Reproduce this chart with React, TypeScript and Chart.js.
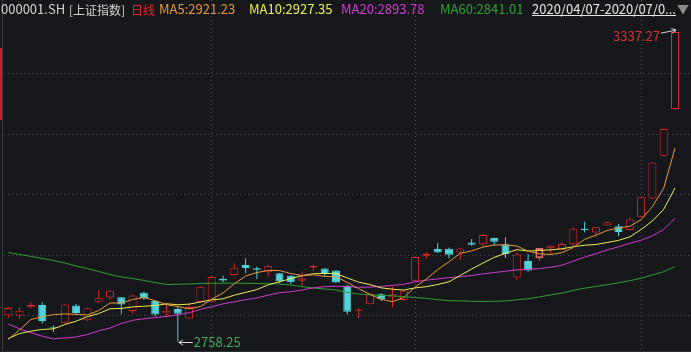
import React, { useEffect, useRef } from "react";
import { Chart, registerables } from "chart.js";

Chart.register(...registerables);

// ---------- data ----------
const dates = [
  "2020/04/07", "2020/04/08", "2020/04/09", "2020/04/10", "2020/04/13", "2020/04/14", "2020/04/15", "2020/04/16", "2020/04/17", "2020/04/20",
  "2020/04/21", "2020/04/22", "2020/04/23", "2020/04/24", "2020/04/27", "2020/04/28", "2020/04/29", "2020/04/30", "2020/05/06", "2020/05/07",
  "2020/05/08", "2020/05/11", "2020/05/12", "2020/05/13", "2020/05/14", "2020/05/15", "2020/05/18", "2020/05/19", "2020/05/20", "2020/05/21",
  "2020/05/22", "2020/05/25", "2020/05/26", "2020/05/27", "2020/05/28", "2020/05/29", "2020/06/01", "2020/06/02", "2020/06/03", "2020/06/04",
  "2020/06/05", "2020/06/08", "2020/06/09", "2020/06/10", "2020/06/11", "2020/06/12", "2020/06/15", "2020/06/16", "2020/06/17", "2020/06/18",
  "2020/06/19", "2020/06/22", "2020/06/23", "2020/06/24", "2020/06/29", "2020/06/30", "2020/07/01", "2020/07/02", "2020/07/03", "2020/07/06",
];

const opens = [
  2807, 2806, 2822, 2826, 2785, 2793, 2825, 2798, 2832, 2840,
  2840.5, 2815, 2849, 2833.6, 2810.4, 2818.5, 2801, 2832, 2832, 2875,
  2882, 2900.5, 2894.5, 2887, 2885, 2880.5, 2871, 2895.5, 2894, 2890,
  2862, 2815.5, 2827.5, 2846, 2840, 2835.4, 2871, 2917.5, 2930, 2930.5,
  2923.5, 2942, 2939, 2950.5, 2939, 2877, 2908, 2913, 2931.5, 2928.5,
  2939, 2967.5, 2960.5, 2973.5, 2972.5, 2965.5, 2990, 3024, 3103, 3190,
];

const highs = [
  2823, 2822, 2831, 2831.5, 2788.5, 2828, 2828, 2822, 2854, 2853,
  2841, 2845, 2851, 2834, 2830.3, 2823, 2829, 2861, 2880.5, 2880.5,
  2903, 2913, 2897.5, 2900.5, 2885.5, 2882, 2888.5, 2901.5, 2894.5, 2890.5,
  2863.5, 2820, 2847, 2848, 2860.5, 2853, 2916, 2924.5, 2941, 2933,
  2931.5, 2948.5, 2958, 2951, 2952, 2925, 2921, 2932.5, 2936.5, 2943,
  2971.5, 2980.5, 2971, 2981, 2976.5, 2989, 3026.5, 3091, 3153.5, 3337.27,
];

const lows = [
  2802, 2800, 2820, 2792, 2776, 2792, 2809, 2796, 2830, 2835.6,
  2809, 2810, 2835.4, 2805.4, 2804, 2758.25, 2799.7, 2831, 2831, 2868.5,
  2881, 2885, 2874, 2879, 2867, 2865, 2862, 2889, 2879, 2867,
  2808.5, 2802, 2827, 2833.6, 2821.7, 2833.6, 2870, 2912, 2923, 2913,
  2909.6, 2936, 2934.6, 2936, 2913.4, 2873, 2888, 2908.5, 2919, 2928,
  2934.6, 2960.7, 2953, 2973, 2954, 2964.5, 2989, 3023, 3102, 3189,
];

const closes = [
  2820.76, 2815.37, 2825.9, 2796.63, 2783.05, 2827.28, 2811.17, 2819.94, 2838.49, 2852.55,
  2827.01, 2843.98, 2838.5, 2808.53, 2815.49, 2810.02, 2822.44, 2860.08, 2878.14, 2871.52,
  2895.34, 2894.8, 2891.56, 2898.05, 2870.34, 2868.46, 2875.42, 2898.58, 2883.74, 2867.92,
  2813.77, 2817.97, 2846.55, 2836.8, 2846.22, 2852.35, 2915.43, 2921.4, 2923.37, 2919.25,
  2930.8, 2937.77, 2956.11, 2943.32, 2920.9, 2919.74, 2890.03, 2931.75, 2935.87, 2939.32,
  2967.63, 2965.27, 2970.62, 2979.55, 2961.52, 2984.67, 3025.98, 3090.57, 3152.81, 3332.88,
];

const ma5 = [
  2762.5, 2779.8, 2799.2, 2804.4, 2808.3, 2809.6, 2808.8, 2807.6, 2816.0, 2829.9,
  2829.8, 2836.4, 2840.1, 2834.1, 2826.7, 2823.3, 2819.0, 2823.3, 2837.2, 2848.4,
  2865.5, 2880.0, 2886.3, 2890.3, 2890.0, 2884.6, 2880.8, 2882.2, 2879.3, 2878.8,
  2867.9, 2856.4, 2846.0, 2836.6, 2832.3, 2840.0, 2859.5, 2874.4, 2891.8, 2906.4,
  2922.1, 2926.5, 2933.5, 2937.5, 2937.8, 2935.6, 2926.0, 2921.2, 2919.7, 2923.3,
  2932.9, 2948.0, 2955.7, 2964.5, 2968.9, 2972.3, 2984.5, 3008.5, 3043.1, 3117.4,
];

const ma10 = [
  2763.9, 2773.2, 2777.6, 2780.8, 2781.9, 2789.9, 2796.0, 2804.5, 2810.3, 2819.1,
  2819.7, 2822.6, 2823.9, 2825.1, 2828.3, 2826.6, 2827.7, 2831.7, 2835.7, 2837.6,
  2844.4, 2849.5, 2854.8, 2863.7, 2869.2, 2875.1, 2880.4, 2884.2, 2884.8, 2884.4,
  2876.3, 2868.6, 2864.1, 2858.0, 2855.5, 2853.9, 2857.9, 2860.2, 2864.2, 2869.3,
  2881.0, 2893.0, 2903.9, 2914.6, 2922.0, 2928.8, 2926.2, 2927.3, 2928.5, 2930.5,
  2934.2, 2937.0, 2938.4, 2942.1, 2946.1, 2952.6, 2966.2, 2982.1, 3003.8, 3043.2,
];

const ma20 = [
  2790.9, 2781.8, 2774.7, 2768.4, 2763.2, 2765.1, 2766.7, 2771.3, 2778.1, 2783.4,
  2791.7, 2797.8, 2800.6, 2802.8, 2805.0, 2808.1, 2811.7, 2818.0, 2822.9, 2828.3,
  2832.1, 2836.0, 2839.3, 2844.4, 2848.8, 2850.8, 2854.0, 2858.0, 2860.2, 2861.0,
  2860.3, 2859.0, 2859.4, 2860.8, 2862.4, 2864.5, 2869.2, 2872.2, 2874.5, 2876.9,
  2878.6, 2880.8, 2884.0, 2886.3, 2888.8, 2891.4, 2892.1, 2893.8, 2896.3, 2899.9,
  2907.6, 2915.0, 2921.2, 2928.3, 2934.1, 2940.7, 2946.2, 2954.7, 2966.2, 2986.8,
];

const ma60 = [
  2923.6, 2919.9, 2916.2, 2912.5, 2908.7, 2904.1, 2898.5, 2893.9, 2888.3, 2882.8,
  2878.1, 2875.3, 2871.6, 2867.9, 2864.2, 2864.6, 2865.1, 2866.0, 2866.4, 2866.6,
  2866.6, 2866.4, 2866.0, 2865.7, 2865.1, 2863.3, 2860.1, 2857.7, 2855.8, 2854.0,
  2849.4, 2846.5, 2845.0, 2843.9, 2843.3, 2841.3, 2840.0, 2838.5, 2836.05, 2834.13,
  2833.92, 2832.94, 2832.73, 2833.06, 2833.62, 2835.79, 2837.63, 2841.01, 2844.9, 2848.1,
  2853.3, 2857.3, 2860.5, 2864.0, 2867.2, 2871.2, 2875.8, 2881.7, 2887.9, 2897.4,
];

const maNames = ["MA5", "MA10", "MA20", "MA60"];
const maLegendValues = ["2921.23", "2927.35", "2893.78", "2841.01"];
const gridPrices = [3256.2, 3142.9, 3030.3, 2917.6, 2806.3];
const monthStarts = ["2020/05/06", "2020/06/01", "2020/07/01"];
const highlightDate = "2020/06/16";
const yMin = 2738.9;
const yMax = 3392.2;

// ---------- styles ----------
const BG = "#16171b";
const UP = "#dc2828";
const DOWN = "#52d3d9";
const HILITE = "#e56a6a";
const GRID = "#4a4d55";
const MA_COLORS = ["#e8983c", "#eeee52", "#d23cd2", "#2fa02f"];
const FONT = '"Noto Sans CJK SC", "Noto Sans", sans-serif';

export default function App() {
  const ref = useRef<HTMLCanvasElement | null>(null);

  useEffect(() => {
    document.body.style.margin = "0";
    document.body.style.background = BG;
    const canvas = ref.current;
    if (!canvas) return;
    const hi = dates.indexOf(highlightDate);
    const up = closes.map((c, i) => c >= opens[i]);

    const decor = {
      id: "decor",
      beforeDatasetsDraw(chart: any) {
        const { ctx } = chart;
        const xs = chart.scales.x;
        const ys = chart.scales.y;
        ctx.save();
        ctx.lineWidth = 1;
        ctx.strokeStyle = GRID;
        ctx.setLineDash([1, 3]);
        gridPrices.forEach((v) => {
          const py = Math.floor(ys.getPixelForValue(v)) + 0.5;
          ctx.beginPath();
          ctx.moveTo(4, py);
          ctx.lineTo(chart.width, py);
          ctx.stroke();
        });
        dates.forEach((d, i) => {
          if (!monthStarts.includes(d)) return;
          const px = Math.floor(xs.getPixelForValue(i)) + 0.5;
          ctx.beginPath();
          ctx.moveTo(px, 0);
          ctx.lineTo(px, chart.height);
          ctx.stroke();
        });
        ctx.setLineDash([]);
        ctx.strokeStyle = "#3a3d44";
        ctx.beginPath();
        ctx.moveTo(2.5, 0);
        ctx.lineTo(2.5, chart.height);
        ctx.stroke();
        ctx.strokeStyle = "#2c2e34";
        ctx.beginPath();
        ctx.moveTo(0, chart.height - 0.5);
        ctx.lineTo(chart.width, chart.height - 0.5);
        ctx.stroke();
        ctx.restore();
      },
      afterDatasetsDraw(chart: any) {
        const { ctx } = chart;
        const xs = chart.scales.x;
        const ys = chart.scales.y;
        const maxV = Math.max(...highs);
        const minV = Math.min(...lows);
        const hiIdx = highs.indexOf(maxV);
        const loIdx = lows.indexOf(minV);
        const xh = xs.getPixelForValue(hiIdx);
        const yh = ys.getPixelForValue(maxV);
        const xl = xs.getPixelForValue(loIdx);
        const yl = ys.getPixelForValue(minV);
        const arrow = (fx: number, fy: number, tx: number, ty: number, color: string) => {
          const a = Math.atan2(ty - fy, tx - fx);
          ctx.strokeStyle = color;
          ctx.lineWidth = 1;
          ctx.beginPath();
          ctx.moveTo(fx, fy);
          ctx.lineTo(tx, ty);
          ctx.moveTo(tx - 5 * Math.cos(a - 0.55), ty - 5 * Math.sin(a - 0.55));
          ctx.lineTo(tx, ty);
          ctx.lineTo(tx - 5 * Math.cos(a + 0.55), ty - 5 * Math.sin(a + 0.55));
          ctx.stroke();
        };
        ctx.save();
        ctx.font = `13px ${FONT}`;
        arrow(xh - 14, yh + 3.5, xh + 1, yh + 0.5, "#d4d4d4");
        ctx.fillStyle = "#cf3434";
        ctx.textAlign = "right";
        ctx.textBaseline = "middle";
        ctx.fillText(maxV.toFixed(2), xh - 15, yh + 6);
        arrow(xl + 15, Math.round(yl) + 0.5, xl + 1, Math.round(yl) + 0.5, "#d4d4d4");
        ctx.fillStyle = "#3fae5c";
        ctx.textAlign = "left";
        ctx.fillText(minV.toFixed(2), xl + 16, yl + 0.5);
        ctx.restore();
      },
    };

    const lineSet = (name: string, data: number[], color: string) => ({
      type: "line" as const,
      label: name,
      data,
      borderColor: color,
      borderWidth: 1,
      pointRadius: 0,
      tension: 0,
      order: 0,
    });

    const chart = new Chart(canvas, {
      type: "bar",
      data: {
        labels: dates,
        datasets: [
          lineSet("MA5", ma5, MA_COLORS[0]),
          lineSet("MA10", ma10, MA_COLORS[1]),
          lineSet("MA20", ma20, MA_COLORS[2]),
          lineSet("MA60", ma60, MA_COLORS[3]),
          {
            type: "bar",
            label: "body",
            data: opens.map((o, i) => [o, closes[i]]),
            backgroundColor: up.map((u) => (u ? BG : DOWN)),
            borderColor: up.map((u, i) => (i === hi ? HILITE : u ? UP : DOWN)),
            borderWidth: up.map((u, i) => (i === hi ? 2 : 1)),
            borderSkipped: false,
            barThickness: 8,
            grouped: false,
            inflateAmount: 0,
            order: 1,
          } as any,
          {
            type: "bar",
            label: "wick",
            data: lows.map((l, i) => [l, highs[i]]),
            backgroundColor: up.map((u, i) => (i === hi ? HILITE : u ? UP : DOWN)),
            borderWidth: 0,
            barThickness: 1,
            grouped: false,
            inflateAmount: 0,
            order: 2,
          } as any,
        ],
      },
      options: {
        animation: false,
        responsive: false,
        devicePixelRatio: 1,
        layout: { padding: { left: 2.65, right: 10.35, top: 0, bottom: 0 } },
        plugins: { legend: { display: false }, tooltip: { enabled: false } },
        scales: {
          x: { type: "category", offset: true, display: false },
          y: { type: "linear", min: yMin, max: yMax, display: false },
        },
      },
      plugins: [decor],
    });
    return () => chart.destroy();
  }, []);

  const headerBase: React.CSSProperties = {
    position: "absolute",
    top: 1,
    whiteSpace: "nowrap",
    fontFamily: FONT,
    fontSize: 13,
    lineHeight: "15px",
  };

  const maLefts = [159, 249, 341, 440];

  return (
    <div style={{ position: "relative", width: 691, height: 352, background: BG, overflow: "hidden" }}>
      <canvas ref={ref} width={691} height={352} style={{ display: "block", width: 691, height: 352 }} />
      <div style={{ position: "absolute", left: 0, top: 48, width: 2, height: 72, background: "#c42222" }} />
      <span style={{ ...headerBase, left: 1, color: "#d4d4d4" }}>000001.SH</span>
      <span style={{ ...headerBase, left: 69, color: "#d4d4d4", fontSize: 12, top: 1.5 }}>[上证指数]</span>
      <span style={{ ...headerBase, left: 131, color: "#e22a2a", fontSize: 12, top: 1.5 }}>日线</span>
      {maNames.map((n, i) => (
        <span key={n} style={{ ...headerBase, left: maLefts[i], color: MA_COLORS[i] }}>
          {n}:{maLegendValues[i]}
        </span>
      ))}
      <span style={{ ...headerBase, left: 532, color: "#e6e6e6", textDecoration: "underline" }}>
        2020/04/07-2020/07/0...
      </span>
      <span style={{ ...headerBase, left: 677, color: "#8a8a8a", fontSize: 12 }}>▼</span>
    </div>
  );
}
